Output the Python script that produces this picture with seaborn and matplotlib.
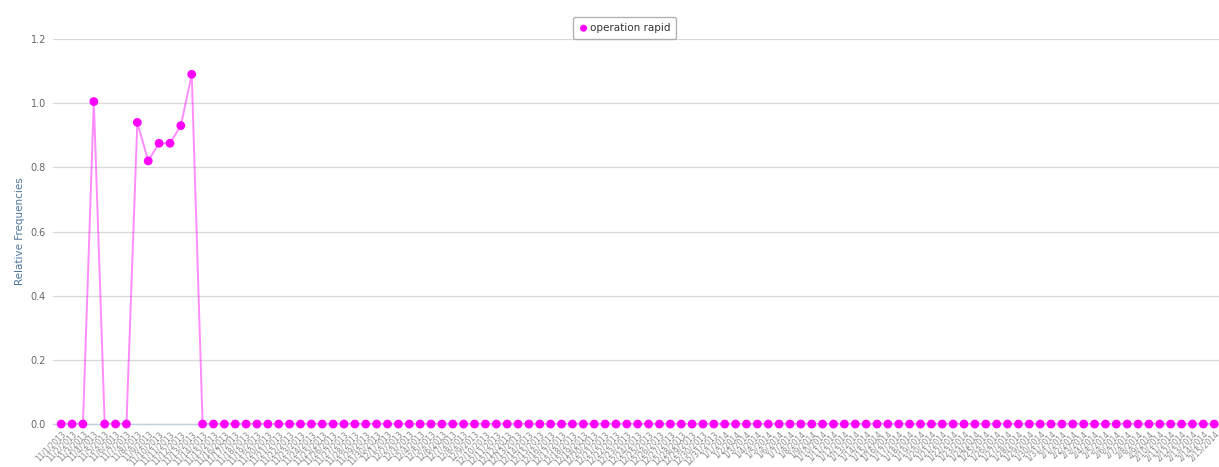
import matplotlib
matplotlib.use("Agg")
import matplotlib.pyplot as plt
import numpy as np
import pandas as pd
import seaborn as sns

# relative frequency per day, "operation rapid"
peak_values = [0.0, 0.0, 0.0, 1.005, 0.0, 0.0, 0.0, 0.94, 0.82, 0.875, 0.875, 0.93, 1.09]
tail_zeros = [0.0] * 94
values = peak_values + tail_zeros

day_dates = pd.date_range("2013-11-01", periods=len(values), freq="D")
tick_labels = [f"{d.month}/{d.day}/{d.year}" for d in day_dates]
series_name = "operation rapid"

df = pd.DataFrame({"idx": np.arange(len(values)), "freq": values})

sns.set_theme(style="white")
plt.rcParams["font.family"] = ["DejaVu Sans"]

fig = plt.figure(figsize=(12.19, 4.67), dpi=100)
ax = fig.add_axes([0.0435, 0.092, 0.9565, 0.8245])

sns.lineplot(data=df, x="idx", y="freq", ax=ax, color="#ff00ff", alpha=0.45,
             linewidth=1.4, legend=False, zorder=3)
sns.scatterplot(data=df, x="idx", y="freq", ax=ax, color="#ff00ff", s=40,
                edgecolor="none", zorder=4, label=series_name, clip_on=False)

ax.set_xlim(-0.75, len(values) - 0.56)
ax.set_ylim(0, 1.2)
ax.set_yticks(np.arange(0, 1.21, 0.2))
ax.set_yticklabels([f"{v:.1f}" for v in np.arange(0, 1.21, 0.2)], fontsize=7, color="#666666")
ax.grid(axis="y", color="#d8d8d8", linewidth=0.9)
ax.set_axisbelow(True)

ax.set_xticks(df["idx"])
ax.set_xticklabels(tick_labels, rotation=45, ha="right", rotation_mode="anchor",
                   fontsize=5.5, color="#888888")
ax.tick_params(axis="x", length=3, color="#c0d0e0", pad=1)
ax.tick_params(axis="y", length=0, pad=5)

for side in ["top", "right", "left"]:
    ax.spines[side].set_visible(False)
ax.spines["bottom"].set_color("#c0d0e0")
ax.spines["bottom"].set_linewidth(1)

ax.set_xlabel("")
ax.set_ylabel("Relative Frequencies", fontsize=7.5, color="#4d759e")
ax.yaxis.set_label_coords(-0.024, 0.5)

leg = ax.legend(loc="upper center", bbox_to_anchor=(0.49, 1.07), frameon=True,
                fontsize=7.5, handletextpad=0.1, borderpad=0.55, markerscale=0.8,
                handlelength=1.0, fancybox=True)
leg.get_frame().set_edgecolor("#a0a0a0")
leg.get_frame().set_linewidth(1)
for t in leg.get_texts():
    t.set_color("#333333")

fig.savefig("out.png", dpi=100)
